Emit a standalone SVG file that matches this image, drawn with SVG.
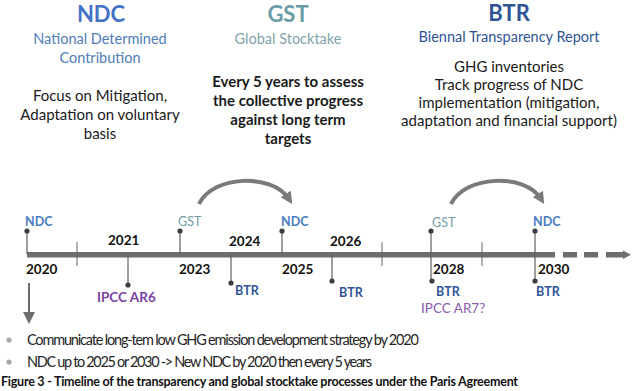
<svg xmlns="http://www.w3.org/2000/svg" width="635" height="391" viewBox="0 0 635 391">
<style>
text{font-family:Lato,"Liberation Sans",sans-serif}
.title{font-size:22px;font-weight:bold;text-anchor:middle}
.sub{font-size:14.5px;text-anchor:middle}
.body{font-size:15px;text-anchor:middle;fill:#1a1a1a}
.bold{font-weight:bold}
.yr{font-size:13.5px;font-weight:bold;fill:#111}
.ev{font-size:12.5px;font-weight:bold}
.ndc{fill:#4a7cc0}
.gst{fill:#6f9da6}
.btr{fill:#2f5597}
.ipcc{fill:#7a3fa0}
.stem{stroke:#5f5f5f;stroke-width:1.2}
.dot{fill:#3d3d3d}
.tick{stroke:#666;stroke-width:1}
.bul{font-size:14.5px;fill:#262626}
</style>
<defs>
<marker id="ah" viewBox="0 0 10 10" refX="5" refY="5" markerWidth="3" markerHeight="3" orient="auto" markerUnits="strokeWidth">
<path d="M0,0 L10,5 L0,10 z" fill="#7a7a7a"/>
</marker>
<marker id="ah2" viewBox="0 0 10 10" refX="5" refY="5" markerWidth="6" markerHeight="6" orient="auto">
<path d="M0,0 L10,5 L0,10 z" fill="#6d6d6d"/>
</marker>
</defs>
<rect width="635" height="391" fill="#fff"/>

<g id="ndc-header">
<text class="title" x="101" y="22" fill="#4472c4">NDC</text>
<text class="sub" x="100" y="44" fill="#4f7db8">National Determined</text>
<text class="sub" x="100" y="63" fill="#4f7db8">Contribution</text>
<text class="body" x="100" y="101">Focus on Mitigation,</text>
<text class="body" x="100" y="120">Adaptation on voluntary</text>
<text class="body" x="100" y="139">basis</text>
</g>

<g id="gst-header">
<text class="title" x="288" y="22" fill="#6a9ca6">GST</text>
<text class="sub" x="288" y="44" fill="#7fa2aa">Global Stocktake</text>
<text class="body bold" x="288" y="87">Every 5 years to assess</text>
<text class="body bold" x="288" y="106">the collective progress</text>
<text class="body bold" x="288" y="125">against long term</text>
<text class="body bold" x="288" y="144">targets</text>
</g>

<g id="btr-header">
<text class="title" x="509" y="21" fill="#2f5496">BTR</text>
<text class="sub" x="509" y="42" fill="#2f5496">Biennal Transparency Report</text>
<text class="body" x="509" y="72">GHG inventories</text>
<text class="body" x="509" y="90">Track progress of NDC</text>
<text class="body" x="509" y="108">implementation (mitigation,</text>
<text class="body" x="509" y="126">adaptation and financial support)</text>
</g>

<g id="timeline">
<rect x="27" y="252" width="528" height="5.5" fill="#6d6d6d"/>
<rect x="563" y="252" width="14" height="5.5" fill="#6d6d6d"/>
<rect x="584" y="252" width="14" height="5.5" fill="#6d6d6d"/>
<rect x="606" y="252" width="18" height="5.5" fill="#6d6d6d"/>
<path d="M623,250.5 L631,254.7 L623,259 z" fill="#6d6d6d"/>
<line class="tick" x1="77" y1="242" x2="77" y2="266"/>
<line class="tick" x1="382" y1="242" x2="382" y2="266"/>
<line class="tick" x1="482" y1="242" x2="482" y2="266"/>
</g>

<g id="m2020">
<line class="stem" x1="27" y1="231" x2="27" y2="254"/>
<circle class="dot" cx="27" cy="231" r="2.6"/>
<text class="ev ndc" x="25" y="226">NDC</text>
<text class="yr" x="26" y="274">2020</text>
</g>

<g id="m2021">
<text class="yr" x="108" y="245">2021</text>
<line class="stem" x1="128" y1="254" x2="128" y2="285"/>
<circle class="dot" cx="128" cy="285" r="2.6"/>
<text class="ev ipcc" x="97" y="302" style="font-size:13.5px">IPCC AR6</text>
</g>

<g id="m2023">
<line class="stem" x1="180" y1="231" x2="180" y2="254"/>
<circle class="dot" cx="180" cy="231" r="2.6"/>
<text class="ev gst" x="178" y="226" style="font-weight:normal">GST</text>
<text class="yr" x="179" y="274">2023</text>
</g>

<g id="m2024">
<text class="yr" x="229" y="246">2024</text>
<line class="stem" x1="231" y1="254" x2="231" y2="283"/>
<circle class="dot" cx="231" cy="283" r="2.6"/>
<text class="ev btr" x="235" y="295">BTR</text>
</g>

<g id="m2025">
<line class="stem" x1="282" y1="231" x2="282" y2="254"/>
<circle class="dot" cx="282" cy="231" r="2.6"/>
<text class="ev ndc" x="281" y="226">NDC</text>
<text class="yr" x="282" y="274">2025</text>
</g>

<g id="m2026">
<text class="yr" x="330" y="246">2026</text>
<line class="stem" x1="332" y1="254" x2="332" y2="281"/>
<circle class="dot" cx="332" cy="281" r="2.6"/>
<text class="ev btr" x="339" y="297">BTR</text>
</g>

<g id="m2028">
<line class="stem" x1="431" y1="231" x2="431" y2="281"/>
<circle class="dot" cx="431" cy="231" r="2.6"/>
<circle class="dot" cx="432" cy="281" r="2.6"/>
<text class="ev gst" x="432" y="227" style="font-weight:normal">GST</text>
<text class="yr" x="433" y="274">2028</text>
<text class="ev btr" x="436" y="296">BTR</text>
<text class="ev ipcc" x="421" y="313" style="font-weight:normal;fill:#8a5aab;font-size:13.5px">IPCC AR7?</text>
</g>

<g id="m2030">
<line class="stem" x1="535" y1="231" x2="535" y2="281"/>
<circle class="dot" cx="535" cy="231" r="2.6"/>
<circle class="dot" cx="535" cy="281" r="2.6"/>
<text class="ev ndc" x="533" y="226">NDC</text>
<text class="yr" x="538" y="274">2030</text>
<text class="ev btr" x="536" y="296">BTR</text>
</g>

<g id="connectors">
<path d="M199,204 C213,175 272,173 289,199" fill="none" stroke="#7a7a7a" stroke-width="4" marker-end="url(#ah)"/>
<path d="M451,204 C465,175 525,173 541,199" fill="none" stroke="#7a7a7a" stroke-width="4" marker-end="url(#ah)"/>
<line x1="29" y1="283" x2="29" y2="318" stroke="#6d6d6d" stroke-width="2" marker-end="url(#ah2)"/>
</g>

<g id="notes">
<circle cx="9" cy="340" r="2.6" fill="#a6a6a6"/>
<text class="bul" x="27" y="345" textLength="392">Communicate long-tem low GHG emission development strategy by 2020</text>
<circle cx="9" cy="362" r="2.6" fill="#a6a6a6"/>
<text class="bul" x="27" y="367" textLength="345">NDC up to 2025 or 2030 -&gt; New NDC by 2020 then every 5 years</text>
<text x="1" y="386" font-size="12.5" font-weight="bold" fill="#111" textLength="517">Figure 3 - Timeline of the transparency and global stocktake processes under the Paris Agreement</text>
</g>
</svg>
